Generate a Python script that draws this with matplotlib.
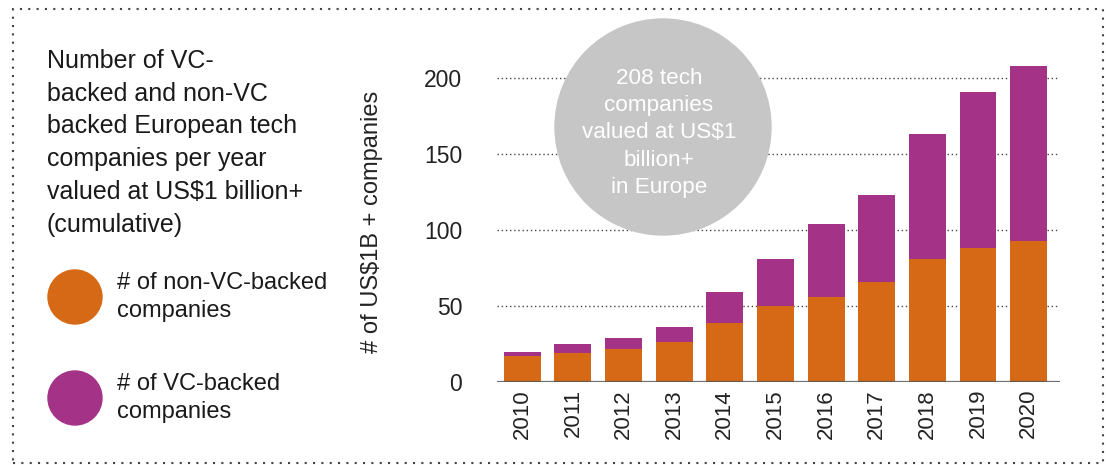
import numpy as np
import matplotlib
matplotlib.use("Agg")
import matplotlib.pyplot as plt
from matplotlib.patches import Ellipse, Rectangle

plt.rcParams["font.family"] = ["Liberation Sans", "DejaVu Sans"]

# ── data ──────────────────────────────────────────────────────
years  = ["2010", "2011", "2012", "2013", "2014", "2015",
          "2016", "2017", "2018", "2019", "2020"]
non_vc = [17, 19, 22, 26, 39, 50, 56, 66, 81, 88, 93]
total  = [20, 25, 29, 36, 59, 81, 104, 123, 163, 191, 208]
vc     = [t - n for t, n in zip(total, non_vc)]
yticks = [0, 50, 100, 150, 200]

ORANGE = "#d66915"
PURPLE = "#a43388"
GREY   = "#c6c6c6"
W, H = 1106, 465

def fx(px):  # pixel x -> figure fraction
    return px / W

def fy(py):  # pixel y (from top) -> figure fraction
    return 1 - py / H

fig = plt.figure(figsize=(11.06, 4.65), dpi=100)
ax = fig.add_axes([fx(497), fy(382), fx(1060) - fx(497), fy(55) - fy(382)])

x = np.arange(len(years))
ax.bar(x, non_vc, width=0.73, color=ORANGE, zorder=2)
ax.bar(x, vc, width=0.73, bottom=non_vc, color=PURPLE, zorder=2)

# gridlines + zero line
for v in yticks[1:]:
    ax.axhline(v, color="#444444", lw=1, ls=(0, (1, 2)), zorder=1)
ax.axhline(0, color="#555555", lw=1.6, alpha=0.85, zorder=3)

ax.set_xlim(-0.5, 10.62)
ax.set_ylim(0, 215)
ax.set_xticks(x)
ax.set_xticklabels(years, rotation=90, fontsize=16, color="#222222")
ax.set_yticks(yticks)
ax.set_yticklabels([str(v) for v in yticks], fontsize=16.5, color="#222222")
ax.tick_params(axis="both", length=0)
ax.tick_params(axis="y", pad=25)
ax.tick_params(axis="x", pad=5)
for s in ax.spines.values():
    s.set_visible(False)
ax.set_ylabel("# of US$1B + companies", fontsize=17, color="#222222")
ax.yaxis.set_label_coords(-0.2025, 0.49)

# grey bubble with the headline number
bubble = Ellipse((fx(663), fy(127)), width=216 / W, height=216 / H,
                 transform=fig.transFigure, color=GREY, zorder=5)
fig.add_artist(bubble)
fig.text(fx(659), fy(133), "208 tech\ncompanies\nvalued at US$1\nbillion+\nin Europe",
         ha="center", va="center", fontsize=16.2, color="white",
         linespacing=1.38, zorder=6)

# left-hand title
fig.text(fx(47), fy(49), "Number of VC-\nbacked and non-VC\nbacked European tech\n"
         "companies per year\nvalued at US$1 billion+\n(cumulative)",
         ha="left", va="top", fontsize=18, color="#1a1a1a", linespacing=1.46)

# legend (circles + labels)
for cy, col, label in [(297, ORANGE, "# of non-VC-backed\ncompanies"),
                       (398, PURPLE, "# of VC-backed\ncompanies")]:
    fig.add_artist(Ellipse((fx(75), fy(cy)), width=54 / W, height=54 / H,
                           transform=fig.transFigure, color=col))
    fig.text(fx(117), fy(cy), label, ha="left", va="center",
             fontsize=17, color="#1a1a1a", linespacing=1.31)

# dotted frame around everything
frame = Rectangle((fx(13), fy(463)), fx(1103) - fx(13), fy(9) - fy(463),
                  transform=fig.transFigure, fill=False, edgecolor="#444444",
                  lw=1.5, ls=(0, (1, 3)))
fig.add_artist(frame)

plt.savefig("out.png", dpi=100)
